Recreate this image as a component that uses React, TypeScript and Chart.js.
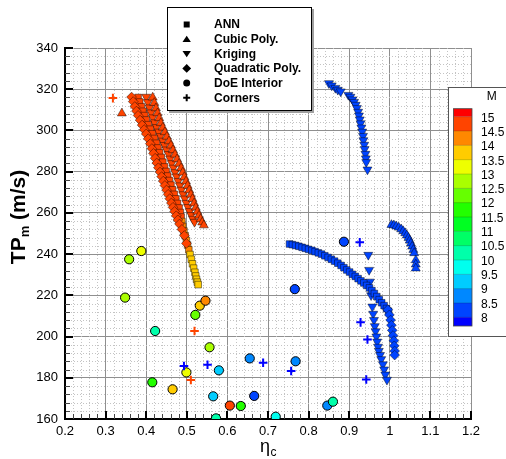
import React, { useEffect, useRef } from 'react';
import { Chart, registerables } from 'chart.js';

Chart.register(...registerables);

// [eta_c, TPm (m/s), M]
type P = [number, number, number];

const xTickValues = [0.2, 0.3, 0.4, 0.5, 0.6, 0.7, 0.8, 0.9, 1.0, 1.1, 1.2];
const xTickLabels = ['0.2', '0.3', '0.4', '0.5', '0.6', '0.7', '0.8', '0.9', '1', '1.1', '1.2'];
const yTickValues = [160, 180, 200, 220, 240, 260, 280, 300, 320, 340];
const yTickLabels = ['160', '180', '200', '220', '240', '260', '280', '300', '320', '340'];
const mLevels = [15, 14.5, 14, 13.5, 13, 12.5, 12, 11.5, 11, 10.5, 10, 9.5, 9, 8.5, 8];
const mLevelLabels = ['15', '14.5', '14', '13.5', '13', '12.5', '12', '11.5', '11', '10.5', '10', '9.5', '9', '8.5', '8'];
const legendNames = ['ANN', 'Cubic Poly.', 'Kriging', 'Quadratic Poly.', 'DoE Interior', 'Corners'];

const doeInterior: P[] = [
  [0.348, 218.9, 12.7], [0.358, 237.5, 12.7], [0.388, 241.5, 13.2], [0.422, 202.7, 10.2],
  [0.415, 177.8, 11.7], [0.465, 174.4, 13.7], [0.499, 182.6, 13.2], [0.521, 210.5, 12.2],
  [0.532, 215.0, 13.7], [0.546, 217.4, 14.2], [0.556, 194.8, 12.7], [0.579, 183.6, 9.2],
  [0.565, 171.0, 9.2], [0.572, 160.3, 10.2], [0.606, 166.5, 14.7], [0.633, 166.3, 11.7],
  [0.655, 189.4, 8.7], [0.666, 171.2, 8.4], [0.719, 161.1, 9.7], [0.766, 223.0, 8.4],
  [0.768, 188.0, 8.7], [0.846, 166.5, 8.7], [0.860, 168.4, 10.2], [0.887, 246.0, 8.4],
];

const corners: P[] = [
  [0.318, 315.7, 14.7], [0.519, 202.7, 14.7], [0.510, 178.9, 14.7],
  [0.493, 185.7, 7.9], [0.551, 186.3, 7.9], [0.688, 187.3, 7.9], [0.757, 183.3, 7.9],
  [0.926, 245.7, 7.9], [0.928, 206.9, 7.9], [0.945, 198.6, 7.9], [0.942, 179.2, 7.9],
];

const ann: P[] = [
  [0.380, 316.0, 14.7], [0.384, 313.8, 14.7], [0.388, 311.5, 14.7], [0.392, 309.3, 14.7],
  [0.396, 307.2, 14.7], [0.400, 305.1, 14.7], [0.405, 302.8, 14.7], [0.410, 300.6, 14.7],
  [0.415, 298.4, 14.7], [0.420, 296.1, 14.7], [0.425, 293.8, 14.7], [0.429, 291.5, 14.7],
  [0.433, 289.2, 14.7], [0.437, 286.9, 14.7], [0.441, 284.6, 14.7], [0.445, 282.3, 14.7],
  [0.449, 280.1, 14.7], [0.453, 277.9, 14.7], [0.457, 275.7, 14.7], [0.461, 273.5, 14.7],
  [0.465, 271.2, 14.7], [0.469, 269.0, 14.7], [0.473, 266.8, 14.7], [0.477, 264.6, 14.7],
  [0.481, 262.4, 14.7], [0.484, 260.2, 14.7], [0.486, 258.0, 14.7], [0.488, 255.8, 14.2],
  [0.490, 253.5, 14.2], [0.493, 251.2, 14.2], [0.496, 248.9, 14.2], [0.499, 246.6, 14.2],
  [0.502, 244.4, 14.2], [0.505, 242.1, 14.2], [0.508, 239.8, 13.7], [0.511, 237.5, 13.7],
  [0.514, 235.3, 13.7], [0.517, 233.2, 13.7], [0.520, 231.2, 13.7], [0.522, 229.4, 13.7],
  [0.524, 227.8, 13.7], [0.526, 226.4, 13.7], [0.528, 225.2, 13.7],
  [0.753, 244.9, 8.2], [0.760, 244.6, 8.2], [0.768, 244.2, 8.2], [0.776, 243.8, 8.2],
  [0.784, 243.3, 8.2], [0.792, 242.8, 8.2], [0.800, 242.3, 8.2], [0.808, 241.8, 8.2],
  [0.816, 241.2, 8.2], [0.824, 240.6, 8.2], [0.832, 240.0, 8.2], [0.840, 239.2, 8.2],
  [0.848, 238.4, 8.2], [0.856, 237.5, 8.2], [0.864, 236.6, 8.2], [0.872, 235.6, 8.2],
  [0.880, 234.5, 8.2], [0.887, 233.4, 8.2], [0.894, 232.3, 8.2], [0.901, 231.3, 8.2],
  [0.908, 230.2, 8.2], [0.915, 229.2, 8.2], [0.922, 228.1, 8.2], [0.929, 227.0, 8.2],
  [0.936, 226.0, 8.2], [0.943, 224.8, 8.2], [0.950, 223.6, 8.2], [0.956, 222.3, 8.2],
  [0.962, 220.9, 8.2], [0.968, 219.4, 8.2], [0.974, 217.9, 8.2], [0.980, 216.4, 8.2],
  [0.986, 215.0, 8.2], [0.992, 213.6, 8.2], [0.997, 212.3, 8.2],
];

const cubicPoly: P[] = [
  [0.340, 308.3, 14.7],
  [0.416, 316.0, 14.7], [0.420, 313.4, 14.7], [0.424, 310.8, 14.7], [0.428, 308.4, 14.7],
  [0.432, 306.0, 14.7], [0.436, 303.6, 14.7], [0.441, 301.4, 14.7], [0.446, 299.2, 14.7],
  [0.451, 297.0, 14.7], [0.456, 294.8, 14.7], [0.461, 292.7, 14.7], [0.466, 290.5, 14.7],
  [0.471, 288.3, 14.7], [0.476, 286.1, 14.7], [0.481, 283.9, 14.7], [0.486, 281.8, 14.7],
  [0.490, 279.6, 14.7], [0.494, 277.4, 14.7], [0.498, 275.3, 14.7], [0.502, 273.2, 14.7],
  [0.506, 271.0, 14.7], [0.510, 268.9, 14.7], [0.514, 266.8, 14.7], [0.518, 264.7, 14.7],
  [0.522, 262.6, 14.7], [0.526, 260.6, 14.7], [0.530, 258.7, 14.7], [0.534, 257.0, 14.7],
  [0.538, 255.4, 14.7], [0.542, 254.0, 14.7],
  [1.004, 254.2, 8.2], [1.010, 254.0, 8.2], [1.016, 253.5, 8.2], [1.022, 252.9, 8.2],
  [1.028, 252.1, 8.2], [1.033, 251.2, 8.2], [1.038, 250.2, 8.2], [1.042, 249.1, 8.2],
  [1.046, 247.9, 8.2], [1.049, 246.6, 8.2], [1.052, 245.2, 8.2], [1.055, 243.7, 8.2],
  [1.058, 242.1, 8.2], [1.060, 240.5, 8.2], [1.064, 237.1, 8.2], [1.064, 235.0, 8.2],
  [1.064, 233.1, 8.2],
];

const kriging: P[] = [
  [0.400, 316.3, 14.7], [0.404, 313.7, 14.7], [0.408, 311.1, 14.7], [0.412, 308.7, 14.7],
  [0.416, 306.3, 14.7], [0.420, 303.9, 14.7], [0.425, 301.6, 14.7], [0.430, 299.4, 14.7],
  [0.435, 297.2, 14.7], [0.440, 295.0, 14.7], [0.445, 292.9, 14.7], [0.450, 290.7, 14.7],
  [0.455, 288.5, 14.7], [0.459, 286.3, 14.7], [0.463, 284.1, 14.7], [0.467, 281.9, 14.7],
  [0.471, 279.7, 14.7], [0.475, 277.6, 14.7], [0.479, 275.4, 14.7], [0.483, 273.3, 14.7],
  [0.487, 271.2, 14.7], [0.491, 269.0, 14.7], [0.495, 266.9, 14.7], [0.499, 264.8, 14.7],
  [0.503, 262.8, 14.7], [0.507, 260.8, 14.7], [0.511, 258.9, 14.7], [0.515, 257.1, 14.7],
  [0.519, 255.6, 14.7],
  [0.850, 322.9, 8.2], [0.857, 321.8, 8.2], [0.866, 320.6, 8.2], [0.872, 319.7, 8.2],
  [0.879, 318.9, 8.2], [0.898, 317.2, 8.2], [0.903, 316.3, 8.2], [0.908, 315.0, 8.2],
  [0.912, 313.8, 8.2], [0.916, 312.4, 8.2], [0.919, 310.8, 8.2], [0.922, 309.0, 8.2],
  [0.924, 307.2, 8.2], [0.926, 305.3, 8.2], [0.928, 303.4, 8.2], [0.930, 301.4, 8.2],
  [0.932, 299.4, 8.2], [0.934, 297.3, 8.2], [0.935, 295.2, 8.2], [0.937, 293.0, 8.2],
  [0.938, 290.9, 8.2], [0.940, 288.6, 8.2], [0.941, 286.4, 8.2], [0.942, 284.6, 8.2],
  [0.945, 281.0, 8.2],
  [0.947, 239.6, 8.2], [0.949, 232.3, 8.2], [0.951, 226.6, 8.2], [0.954, 220.0, 8.2],
  [0.957, 214.5, 8.2], [0.959, 211.0, 8.2], [0.961, 208.0, 8.2], [0.963, 205.0, 8.2],
  [0.965, 202.5, 8.2], [0.967, 200.0, 8.2], [0.969, 197.5, 8.2], [0.971, 195.0, 8.2],
  [0.973, 193.0, 8.2], [0.976, 191.0, 8.2], [0.979, 189.0, 8.2], [0.983, 186.5, 8.2],
  [0.986, 184.0, 8.2], [0.989, 181.5, 8.2], [0.993, 179.0, 8.2],
];

const quadraticPoly: P[] = [
  [0.364, 316.2, 14.7], [0.368, 314.0, 14.7], [0.372, 311.6, 14.7], [0.376, 309.4, 14.7],
  [0.380, 307.3, 14.7], [0.385, 305.0, 14.7], [0.390, 302.6, 14.7], [0.395, 300.4, 14.7],
  [0.400, 298.3, 14.7], [0.405, 296.0, 14.7], [0.410, 293.6, 14.7], [0.414, 291.2, 14.7],
  [0.418, 288.9, 14.7], [0.422, 286.5, 14.7], [0.426, 284.2, 14.7], [0.430, 281.9, 14.7],
  [0.434, 279.8, 14.7], [0.438, 277.6, 14.7], [0.442, 275.4, 14.7], [0.446, 273.3, 14.7],
  [0.450, 271.1, 14.7], [0.454, 269.0, 14.7], [0.458, 266.9, 14.7], [0.462, 264.8, 14.7],
  [0.466, 262.7, 14.7], [0.470, 260.7, 14.7], [0.474, 258.6, 14.7], [0.478, 256.6, 14.7],
  [0.482, 254.6, 14.7], [0.488, 252.0, 14.7], [0.494, 249.0, 14.7], [0.499, 245.2, 14.7],
  [0.995, 213.0, 8.2], [0.999, 210.5, 8.2], [1.002, 208.0, 8.2], [1.004, 205.5, 8.2],
  [1.006, 203.0, 8.2], [1.008, 200.5, 8.2], [1.010, 198.0, 8.2], [1.011, 195.5, 8.2],
  [1.012, 193.0, 8.2], [1.012, 191.0, 8.2],
];

const FONT = "'Liberation Sans', Arial, Helvetica, sans-serif";

function hueColor(h: number): string {
  const f = (n: number) => {
    const k = (n + h / 60) % 6;
    return 1 - Math.max(0, Math.min(k, 4 - k, 1));
  };
  return `rgb(${Math.round(f(5) * 255)},${Math.round(f(3) * 255)},${Math.round(f(1) * 255)})`;
}
function bandIndex(m: number): number {
  return Math.max(0, Math.min(15, Math.floor((m - 8) / 0.5) + 1));
}
function mColor(m: number): string {
  return hueColor(240 - 16 * bandIndex(m));
}

const OUTLINE = 'rgba(0,0,0,0.62)';

function makeDataset(label: string, pts: P[], style: any) {
  return {
    label,
    data: pts.map((p) => ({ x: p[0], y: p[1] })),
    pointBackgroundColor: pts.map((p) => mColor(p[2])),
    pointBorderColor: OUTLINE,
    pointBorderWidth: 0.7,
    showLine: false,
    ...style,
  };
}

const decorPlugin = {
  id: 'decor',
  beforeDatasetsDraw(chart: any) {
    const { ctx, chartArea } = chart;
    const { left, right, top, bottom } = chartArea;
    const xs = chart.scales.x;
    const ys = chart.scales.y;
    ctx.save();
    // minor dotted grid
    ctx.strokeStyle = '#c4c4c4';
    ctx.lineWidth = 1;
    ctx.setLineDash([1, 2]);
    for (let k = 1; k < 50; k++) {
      if (k % 5 === 0) continue;
      const px = Math.round(xs.getPixelForValue(0.2 + k * 0.02)) + 0.5;
      ctx.beginPath(); ctx.moveTo(px, top); ctx.lineTo(px, bottom); ctx.stroke();
    }
    for (let k = 1; k < 45; k++) {
      if (k % 5 === 0) continue;
      const py = Math.round(ys.getPixelForValue(160 + k * 4)) + 0.5;
      ctx.beginPath(); ctx.moveTo(left, py); ctx.lineTo(right, py); ctx.stroke();
    }
    ctx.setLineDash([]);
    // inward ticks
    ctx.strokeStyle = '#444';
    ctx.lineWidth = 1;
    for (let k = 1; k < 50; k++) {
      if (k % 5 === 0) continue;
      const px = Math.round(xs.getPixelForValue(0.2 + k * 0.02)) + 0.5;
      ctx.beginPath(); ctx.moveTo(px, bottom); ctx.lineTo(px, bottom - 5); ctx.stroke();
    }
    for (let k = 1; k < 45; k++) {
      if (k % 5 === 0) continue;
      const py = Math.round(ys.getPixelForValue(160 + k * 4)) + 0.5;
      ctx.beginPath(); ctx.moveTo(left, py); ctx.lineTo(left + 5, py); ctx.stroke();
    }
    ctx.strokeStyle = '#000';
    ctx.lineWidth = 2;
    xTickValues.forEach((v) => {
      const px = Math.round(xs.getPixelForValue(v));
      ctx.beginPath(); ctx.moveTo(px, bottom); ctx.lineTo(px, bottom - 8); ctx.stroke();
    });
    yTickValues.forEach((v) => {
      const py = Math.round(ys.getPixelForValue(v));
      ctx.beginPath(); ctx.moveTo(left, py); ctx.lineTo(left + 8, py); ctx.stroke();
    });
    ctx.restore();
  },
  afterDraw(chart: any) {
    const { ctx, chartArea } = chart;
    ctx.save();
    // axis titles
    ctx.fillStyle = '#000';
    ctx.textBaseline = 'alphabetic';
    // x title: eta_c
    ctx.font = `18px ${FONT}`;
    const wEta = ctx.measureText('η').width;
    ctx.font = `12px ${FONT}`;
    const wC = ctx.measureText('c').width;
    const cx = (chartArea.left + chartArea.right) / 2;
    const x0 = cx - (wEta + wC) / 2;
    ctx.font = `18px ${FONT}`;
    ctx.textAlign = 'left';
    ctx.fillText('η', x0, 452);
    ctx.font = `12px ${FONT}`;
    ctx.fillText('c', x0 + wEta + 0.5, 456);
    // y title: TP_m (m/s)
    ctx.save();
    ctx.translate(25, 217);
    ctx.rotate(-Math.PI / 2);
    ctx.font = `bold 21px ${FONT}`;
    const w1 = ctx.measureText('TP').width;
    const w3 = ctx.measureText(' (m/s)').width;
    ctx.font = `bold 13px ${FONT}`;
    const w2 = ctx.measureText('m').width;
    let sx = -(w1 + w2 + w3) / 2;
    ctx.font = `bold 21px ${FONT}`;
    ctx.fillText('TP', sx, 0);
    sx += w1;
    ctx.font = `bold 13px ${FONT}`;
    ctx.fillText('m', sx, 4);
    sx += w2;
    ctx.font = `bold 21px ${FONT}`;
    ctx.fillText(' (m/s)', sx, 0);
    ctx.restore();

    // legend box
    ctx.fillStyle = '#a0a0a0';
    ctx.fillRect(169, 9, 145, 104);
    ctx.fillStyle = '#fff';
    ctx.fillRect(167, 7, 145, 104);
    ctx.strokeStyle = '#000';
    ctx.lineWidth = 1;
    ctx.strokeRect(167.5, 7.5, 144, 103);
    const mx = 186.7;
    legendNames.forEach((name, i) => {
      const y = 24.5 + i * 14.65;
      ctx.fillStyle = '#000';
      ctx.strokeStyle = '#000';
      ctx.beginPath();
      if (i === 0) {
        ctx.rect(mx - 3, y - 3, 6, 6);
        ctx.fill();
      } else if (i === 1) {
        ctx.moveTo(mx, y - 3.5); ctx.lineTo(mx + 4.2, y + 2.8); ctx.lineTo(mx - 4.2, y + 2.8); ctx.closePath(); ctx.fill();
      } else if (i === 2) {
        ctx.moveTo(mx, y + 3.5); ctx.lineTo(mx + 4.2, y - 2.8); ctx.lineTo(mx - 4.2, y - 2.8); ctx.closePath(); ctx.fill();
      } else if (i === 3) {
        ctx.moveTo(mx, y - 4.4); ctx.lineTo(mx + 4.4, y); ctx.lineTo(mx, y + 4.4); ctx.lineTo(mx - 4.4, y); ctx.closePath(); ctx.fill();
      } else if (i === 4) {
        ctx.arc(mx, y, 3.5, 0, Math.PI * 2); ctx.fill();
      } else {
        ctx.lineWidth = 2;
        ctx.moveTo(mx - 3.5, y); ctx.lineTo(mx + 3.5, y); ctx.moveTo(mx, y - 3.5); ctx.lineTo(mx, y + 3.5); ctx.stroke();
      }
      ctx.font = `bold 12px ${FONT}`;
      ctx.textAlign = 'left';
      ctx.textBaseline = 'middle';
      ctx.fillText(name, 214, y + 0.5);
    });

    // colour bar box
    ctx.fillStyle = '#fff';
    ctx.fillRect(448, 87, 60, 250);
    ctx.strokeStyle = '#555';
    ctx.lineWidth = 1;
    ctx.strokeRect(448.5, 87.5, 60, 249);
    const barL = 453.5, barW = 18.5, barTop = 108.7, barBot = 326;
    const lvTop = 116.7, step = 14.33;
    const levelY = (i: number) => lvTop + i * step;
    ctx.fillStyle = mColor(15.2);
    ctx.fillRect(barL, barTop, barW, lvTop - barTop);
    for (let i = 0; i < mLevels.length - 1; i++) {
      ctx.fillStyle = mColor((mLevels[i] + mLevels[i + 1]) / 2);
      ctx.fillRect(barL, levelY(i), barW, step + 0.3);
    }
    const lv8 = levelY(mLevels.length - 1);
    ctx.fillStyle = mColor(7.8);
    ctx.fillRect(barL, lv8, barW, barBot - lv8);
    ctx.strokeStyle = 'rgba(0,0,0,0.3)';
    ctx.lineWidth = 0.6;
    mLevels.forEach((_, i) => {
      const y = levelY(i);
      ctx.beginPath(); ctx.moveTo(barL, y); ctx.lineTo(barL + barW, y); ctx.stroke();
    });
    ctx.strokeStyle = '#444';
    ctx.lineWidth = 0.8;
    ctx.strokeRect(barL, barTop, barW, barBot - barTop);
    ctx.fillStyle = '#000';
    ctx.font = `12px ${FONT}`;
    ctx.textAlign = 'left';
    ctx.textBaseline = 'middle';
    mLevelLabels.forEach((t, i) => {
      ctx.fillText(t, 481, levelY(i) + 1.5);
    });
    ctx.textAlign = 'center';
    ctx.fillText('M', 491.7, 97);
    ctx.restore();
  },
};

export default function App() {
  const ref = useRef<HTMLCanvasElement>(null);
  useEffect(() => {
    if (!ref.current) return;
    const datasets = [
      makeDataset('Corners', corners, {
        pointStyle: 'cross', pointRadius: 4.3, pointBorderWidth: 2,
        pointBorderColor: corners.map((p) => mColor(p[2])), order: 0,
      }),
      makeDataset('DoE Interior', doeInterior, {
        pointStyle: 'circle', pointRadius: 4.6, pointBorderColor: '#000', pointBorderWidth: 1, order: 1,
      }),
      makeDataset('Quadratic Poly.', quadraticPoly, { pointStyle: 'rectRot', pointRadius: 4.9, order: 2 }),
      makeDataset('Cubic Poly.', cubicPoly, { pointStyle: 'triangle', pointRadius: 5.2, order: 3 }),
      makeDataset('ANN', ann, { pointStyle: 'rect', pointRadius: 4.7, order: 4 }),
      makeDataset('Kriging', kriging, { pointStyle: 'triangle', pointRotation: 180, pointRadius: 5.2, order: 5 }),
    ];
    const tickFont = { family: FONT, size: 13 };
    const chart = new Chart(ref.current, {
      type: 'scatter',
      data: { datasets } as any,
      options: {
        responsive: false,
        animation: false,
        events: [],
        layout: { padding: { top: 48, right: 35, left: 0, bottom: 0 } },
        plugins: { legend: { display: false }, tooltip: { enabled: false } },
        scales: {
          x: {
            type: 'linear', min: 0.2, max: 1.2,
            afterBuildTicks: (s: any) => { s.ticks = xTickValues.map((v) => ({ value: v })); },
            afterFit: (s: any) => { s.height = 40; },
            ticks: {
              autoSkip: false, maxRotation: 0, padding: 5, color: '#000', font: tickFont,
              callback: (v: any) => { const i = xTickValues.findIndex((t) => Math.abs(t - v) < 1e-9); return i >= 0 ? xTickLabels[i] : ''; },
            },
            grid: { color: '#8f8f8f', lineWidth: 1, drawTicks: false },
            border: { display: true, color: '#000', width: 2 },
          },
          y: {
            type: 'linear', min: 160, max: 340,
            afterBuildTicks: (s: any) => { s.ticks = yTickValues.map((v) => ({ value: v })); },
            afterFit: (s: any) => { s.width = 65; },
            ticks: {
              autoSkip: false, padding: 7, color: '#000', font: tickFont,
              callback: (v: any) => { const i = yTickValues.findIndex((t) => Math.abs(t - v) < 1e-9); return i >= 0 ? yTickLabels[i] : ''; },
            },
            grid: { color: '#8f8f8f', lineWidth: 1, drawTicks: false },
            border: { display: true, color: '#000', width: 2 },
          },
        },
      } as any,
      plugins: [decorPlugin],
    });
    return () => chart.destroy();
  }, []);
  return (
    <div style={{ position: 'fixed', left: 0, top: 0, width: 506, height: 459, background: '#fff' }}>
      <canvas ref={ref} width={506} height={459} style={{ display: 'block', width: 506, height: 459 }} />
    </div>
  );
}
